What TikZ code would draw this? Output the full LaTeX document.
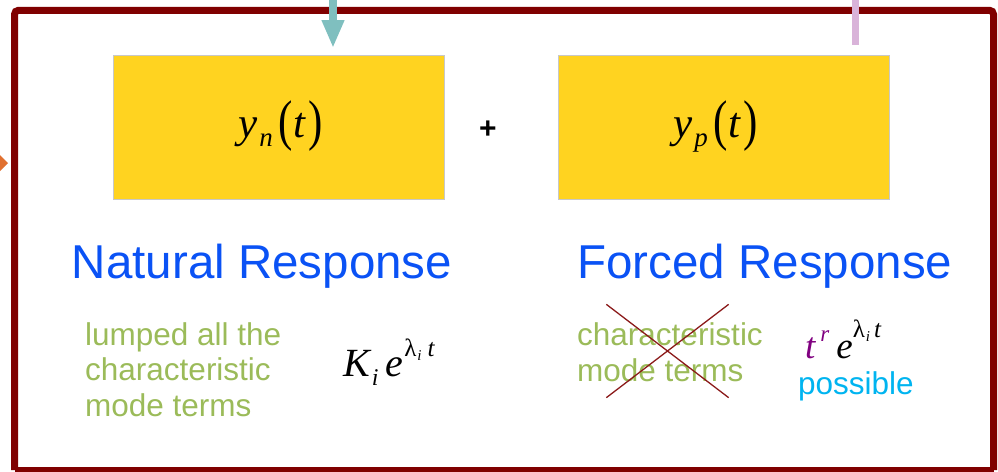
\documentclass[tikz,border=0pt]{standalone}
\usepackage{fontspec}
\usepackage{graphicx}
\setmainfont{Liberation Sans}
\newfontfamily\eqfont{Liberation Serif}
\usetikzlibrary{arrows.meta,shapes.misc}
\definecolor{frame}{HTML}{800000}
\definecolor{boxyellow}{HTML}{FFD320}
\definecolor{boxedge}{HTML}{C8C8C8}
\definecolor{titleblue}{HTML}{0A52F5}
\definecolor{txtgreen}{HTML}{9BBB59}
\definecolor{possblue}{HTML}{00B4F0}
\definecolor{tpurple}{HTML}{800080}
\definecolor{teal}{HTML}{7FBFBF}
\definecolor{pinkline}{HTML}{D9B3D9}
\definecolor{orangetip}{HTML}{E07030}
\definecolor{crossred}{HTML}{8B1A1A}
\newcommand{\bigpar}[1]{\raisebox{-2.5pt}{\scalebox{1}[1.3]{\upshape #1}}}
\newcommand{\myfs}[1]{\fontsize{#1}{#1}\selectfont}
\newcommand{\lamexp}[1]{\upshape\myfs{25}λ\hspace{1pt}\raisebox{-4pt}{\itshape\myfs{15}i}\hspace{#1}\itshape t}
\tikzset{
  ybox/.style={fill=boxyellow,draw=boxedge,line width=1pt,minimum width=331pt,minimum height=144pt,inner sep=0pt},
  mathlbl/.style={inner sep=0pt,anchor=base west,font=\eqfont\myfs{43}\itshape},
  title/.style={inner sep=0pt,anchor=base,text=titleblue,font=\fontsize{47.5}{56}\selectfont},
  greentxt/.style={inner sep=0pt,anchor=base west,text=txtgreen,align=left,font=\fontsize{31.5}{35.5}\selectfont},
}
\begin{document}
\begin{tikzpicture}[x=1pt,y=-1pt]
\useasboundingbox (0,0) rectangle (998,471);
% frame
\draw[frame,line width=7pt,rounded corners=4pt] (14.5,470) -- (14.5,10.3) -- (993.5,10.3) -- (993.5,470);
\draw[frame,line width=7pt] (14.5,470) -- (993.5,470);
% boxes
\node[ybox] (yn) at (278.5,127) {};
\node[ybox] (yp) at (723.5,127) {};
\node[mathlbl] (ynlbl) at (238,137) {y\hspace{2pt}\raisebox{-9pt}{\myfs{27}n}\hspace{6pt}\bigpar{(}t\hspace{3pt}\bigpar{)}};
\node[mathlbl] (yplbl) at (673,137) {y\hspace{2pt}\raisebox{-9pt}{\myfs{27}p}\hspace{6pt}\bigpar{(}t\hspace{3pt}\bigpar{)}};
\node[inner sep=0pt,font=\fontsize{30}{36}\selectfont\bfseries] (plus) at (488,130) {+};
% incoming connectors
\coordinate (tealtop) at (333,0);
\coordinate (tealend) at (333,48);
\draw[teal,line width=8pt,-{Triangle[width=21pt,length=28pt]}] (tealtop) -- (tealend);
\coordinate (pinktop) at (855,0);
\coordinate (pinkend) at (855,45);
\draw[pinkline,line width=7pt] (pinktop) -- (pinkend);
\fill[orangetip] (0,155) -- (8,163) -- (0,171) -- cycle;
% titles
\node[title] (nat) at (262,278) {Natural Response};
\node[title] (forc) at (765,278) {Forced Response};
% left texts
\node[greentxt] (lumped) at (85,416) {lumped all the\\characteristic\\mode terms};
\node[inner sep=0pt,anchor=base west,font=\eqfont\myfs{40}] (kexp) at (343,376)
  {\itshape K\hspace{2pt}\raisebox{-9pt}{\myfs{24}i}\hspace{7pt}e\hspace{1pt}\raisebox{20pt}{\lamexp{6pt}}};
% right texts
\node[greentxt] (charmode) at (577,381) {characteristic\\mode terms};
\node[cross out,draw=crossred,line width=1.3pt,minimum width=121pt,minimum height=92pt,inner sep=0pt] (xmark) at (667.5,351) {};
\node[inner sep=0pt,anchor=base west,font=\eqfont\myfs{37}] (texp) at (805,358)
  {\itshape\textcolor{tpurple}{t\hspace{5pt}\raisebox{17pt}{\myfs{23}r}}\hspace{7pt}e\raisebox{21pt}{\lamexp{4pt}}};
\node[inner sep=0pt,anchor=base west,text=possblue,font=\fontsize{31.5}{36}\selectfont] (poss) at (798,394) {possible};
\end{tikzpicture}
\end{document}
